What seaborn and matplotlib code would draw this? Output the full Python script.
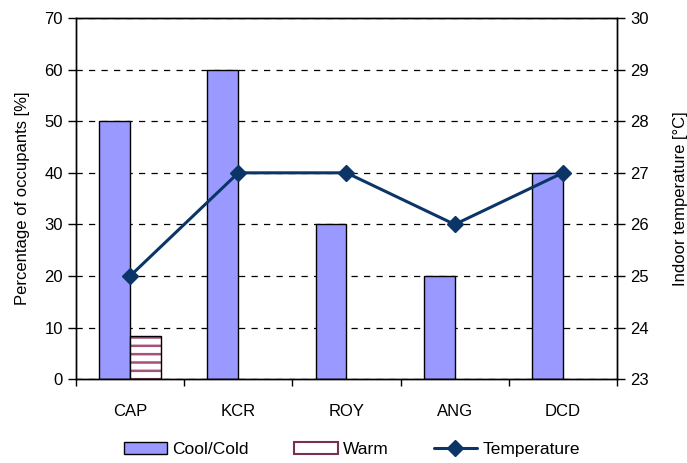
import seaborn as sns
import pandas as pd
import matplotlib.pyplot as plt
from matplotlib.patches import Patch
from matplotlib.lines import Line2D

# Chart data
sites = ['CAP', 'KCR', 'ROY', 'ANG', 'DCD']
cool_cold = [50, 60, 30, 20, 40]
warm = [8.3, 0, 0, 0, 0]
temperature = [25, 27, 27, 26, 27]

bar_color = '#9999FF'
warm_color = '#A8507C'
line_color = '#0B3566'

sns.set_style('white')
plt.rcParams['font.family'] = ['Liberation Sans', 'DejaVu Sans']
plt.rcParams['text.color'] = 'black'
plt.rcParams['axes.labelcolor'] = 'black'
plt.rcParams['xtick.color'] = 'black'
plt.rcParams['ytick.color'] = 'black'
plt.rcParams['hatch.linewidth'] = 1.8
plt.rcParams['hatch.color'] = warm_color

# Long format for a dodged barplot
bars = pd.DataFrame({
    'Site': sites * 2,
    'Percent': cool_cold + warm,
    'Group': ['Cool/Cold'] * len(sites) + ['Warm'] * len(sites),
})

fig = plt.figure(figsize=(6.87, 4.63), dpi=100)
ax = fig.add_axes([0.1106, 0.181, 0.7875, 0.780])

sns.barplot(data=bars, x='Site', y='Percent', hue='Group', order=sites,
            palette={'Cool/Cold': bar_color, 'Warm': 'white'},
            width=0.572, edgecolor='black', linewidth=1.0,
            saturation=1, legend=False, ax=ax, zorder=2)

# hatch the warm bars with stripes, keep a black outline; hide empty bars
for patch in ax.patches[len(sites):]:
    if patch.get_height() > 0:
        patch.set_hatch('--')
        patch.set_edgecolor(warm_color)
        patch.set_linewidth(0)
        ax.add_patch(plt.Rectangle(patch.get_xy(), patch.get_width(), patch.get_height(),
                                   fill=False, edgecolor='black', linewidth=1.0, zorder=3))
    else:
        patch.set_visible(False)

ax.set_ylim(0, 70)
ax.set_xlim(-0.5, len(sites) - 0.5)
ax.set_yticks(range(0, 71, 10))
ax.set_ylabel('Percentage of occupants [%]', fontsize=12, labelpad=10)
ax.set_xlabel('')
ax.yaxis.grid(True, linestyle=(0, (5, 5)), color='black', linewidth=0.9, zorder=0)
ax.set_axisbelow(True)
ax.tick_params(axis='y', which='major', direction='out', length=6, width=1, labelsize=12, left=True)
ax.tick_params(axis='x', which='major', length=0, labelsize=12, pad=18)
ax.set_xticks([i - 0.5 for i in range(len(sites) + 1)], minor=True)
ax.tick_params(axis='x', which='minor', direction='out', length=5, width=1, bottom=True)
for spine in ax.spines.values():
    spine.set_color('black')
    spine.set_linewidth(1.0)

# Temperature line on the right axis
ax2 = ax.twinx()
ax2.plot(range(len(sites)), temperature, color=line_color, linewidth=2.2,
         marker='D', markersize=8, zorder=5)
ax2.set_ylim(23, 30)
ax2.set_yticks(range(23, 31))
ax2.set_ylabel('Indoor temperature [°C]', fontsize=12, labelpad=17)
ax2.tick_params(axis='y', direction='out', length=6, width=1, labelsize=12, right=True)
ax2.grid(False)
for spine in ax2.spines.values():
    spine.set_color('black')
    spine.set_linewidth(1.0)
ax2.set_xlim(-0.5, len(sites) - 0.5)

handles = [
    Patch(facecolor=bar_color, edgecolor='black', label='Cool/Cold'),
    Patch(facecolor='white', edgecolor='#7A2E52', linewidth=1.5, label='Warm'),
    Line2D([0], [0], color=line_color, linewidth=2.2, marker='D', markersize=8, label='Temperature'),
]
ax.legend(handles=handles, loc='center', bbox_to_anchor=(0.51, -0.195), ncol=3,
          frameon=False, fontsize=12.5, handlelength=2.5, handletextpad=0.3, columnspacing=2.6)

plt.savefig('out.png', dpi=100)
